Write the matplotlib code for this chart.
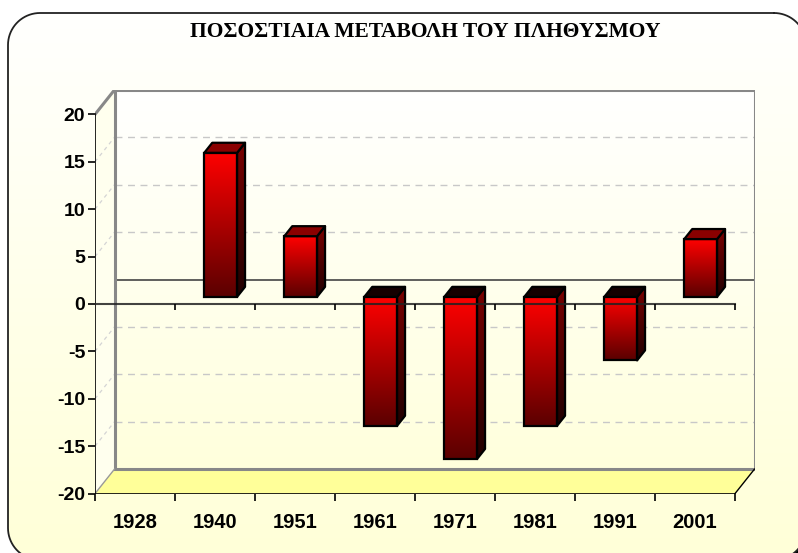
import numpy as np
import matplotlib
matplotlib.use("Agg")
import matplotlib.pyplot as plt
from matplotlib.patches import Polygon, Rectangle
from matplotlib.colors import LinearSegmentedColormap

# data
years = ['1928', '1940', '1951', '1961', '1971', '1981', '1991', '2001']
pct = [np.nan, 15.2, 6.4, -13.6, -17.1, -13.6, -6.7, 6.1]
y_ticks = [-20, -15, -10, -5, 0, 5, 10, 15, 20]
title = 'ΠΟΣΟΣΤΙΑΙΑ ΜΕΤΑΒΟΛΗ ΤΟΥ ΠΛΗΘΥΣΜΟΥ'

plt.rcParams['font.family'] = ['Liberation Sans', 'DejaVu Sans']

W, H = 798, 553
# pixel geometry of the pseudo-3d box
X0, PXC = 95, 80.0          # front left edge, px per category
Y0, PXV = 304, 9.48         # front zero line, px per unit
DXPX, DYPX = 19.5, 24.5     # depth offset in px
N = len(years)
DX = DXPX / PXC
DY = DYPX / PXV
VMIN, VMAX = -20, 20

fig = plt.figure(figsize=(W / 100, H / 100), dpi=100)
fig.patch.set_facecolor('white')


def gradient(ax, patch, extent, c_top, c_bot, zorder):
    cmap = LinearSegmentedColormap.from_list('g', [c_bot, c_top])
    grad = np.linspace(0, 1, 256).reshape(-1, 1)
    im = ax.imshow(grad, cmap=cmap, extent=extent, origin='lower',
                   aspect='auto', zorder=zorder, interpolation='bilinear')
    im.set_clip_path(patch)
    return im


def rounded_outline(x0, y0, x1, y1, r):
    # y grows downwards here
    pts = []
    for cxr, cyr, a0 in [(x1 - r, y0 + r, -90), (x1 - r, y1 - r, 0),
                         (x0 + r, y1 - r, 90), (x0 + r, y0 + r, 180)]:
        t = np.radians(np.linspace(a0, a0 + 90, 20))
        pts += list(zip(cxr + r * np.cos(t), cyr + r * np.sin(t)))
    pts.append(pts[0])
    return np.array(pts)


# background with rounded border (runs off the right and bottom edges)
bg = fig.add_axes([0, 0, 1, 1])
bg.axis('off')
bg.add_patch(Rectangle((778, 533), 40, 40, facecolor='black', edgecolor='none', zorder=1))
outline = rounded_outline(8, 13, 806, 560, 32)
frame = Polygon(outline, closed=True, facecolor='none', edgecolor='none', zorder=2)
bg.add_patch(frame)
gradient(bg, frame, [0, W, H, 0], '#FFFFFF', '#FFFFD8', 2)
bg.plot(outline[:, 0], outline[:, 1], color='#222222', lw=1.3, zorder=3)
bg.set_xlim(0, W)
bg.set_ylim(H, 0)

fig.text(425 / W, 1 - 32 / H, title, ha='center', va='center',
         family=['Liberation Serif', 'DejaVu Serif'], fontweight='bold', fontsize=15.5)

# plot axes placed so that data coords map onto the pixel geometry
left = X0
right = X0 + PXC * (N + DX)
bottom = Y0 - VMIN * PXV
top = Y0 - (VMAX + DY) * PXV
ax = fig.add_axes([left / W, 1 - bottom / H, (right - left) / W, (bottom - top) / H])
ax.patch.set_alpha(0)
for s in ax.spines.values():
    s.set_visible(False)

# back wall
back = Rectangle((DX, VMIN + DY), N, VMAX - VMIN, facecolor='none',
                 edgecolor='#888888', lw=2.2, zorder=3)
ax.add_patch(back)
gradient(ax, back, [DX, N + DX, VMIN + DY, VMAX + DY], '#FFFFFF', '#FFFFDC', 1)

# left side wall
side = Polygon([(0, VMIN), (DX, VMIN + DY), (DX, VMAX + DY), (0, VMAX)],
               facecolor='#FFFFEE', edgecolor='none', zorder=1)
ax.add_patch(side)
ax.plot([0, DX], [VMAX, VMAX + DY], color='#888888', lw=2.2, zorder=3,
        solid_capstyle='round')

# floor
floor = Polygon([(0, VMIN), (N, VMIN), (N + DX, VMIN + DY), (DX, VMIN + DY)],
                facecolor='#FFFF99', edgecolor='none', zorder=2)
ax.add_patch(floor)
ax.plot([N, N + DX], [VMIN, VMIN + DY], color='black', lw=1, zorder=4)
ax.plot([0, DX], [VMIN, VMIN + DY], color='#999999', lw=1, zorder=4)

# gridlines on back wall and side wall
for v in y_ticks[1:-1]:
    if v == 0:
        ax.plot([DX, N + DX], [DY, DY], color='#444444', lw=1.2, zorder=2)
        continue
    ax.plot([DX, N + DX], [v + DY, v + DY], color='#C8C8C8', lw=1,
            dashes=(5, 4), zorder=2)
    ax.plot([0, DX], [v, v + DY], color='#D4D4D4', lw=0.9, dashes=(3, 3), zorder=2)

# bars
f0, f1 = 0.29, 0.70
w = 0.41
cx = np.arange(N) + 0.5 + f0 * DX
b0 = f0 * DY
ddx, ddy = (f1 - f0) * DX, (f1 - f0) * DY
bars = ax.bar(cx, pct, width=w, bottom=b0, facecolor='none', edgecolor='black',
              lw=1.6, zorder=6)
for x, v, rect in zip(cx, pct, bars):
    if np.isnan(v):
        continue
    lo, hi = min(b0, b0 + v), max(b0, b0 + v)
    xl, xr = x - w / 2, x + w / 2
    gradient(ax, rect, [xl, xr, lo, hi], '#FF0000', '#5A0000', 5)
    sp = Polygon([(xr, lo), (xr, hi), (xr + ddx, hi + ddy), (xr + ddx, lo + ddy)],
                 facecolor='none', edgecolor='black', lw=1.6, joinstyle='round', zorder=6)
    ax.add_patch(sp)
    gradient(ax, sp, [xr, xr + ddx, lo, hi + ddy], '#7A0000', '#200000', 5)
    tp = Polygon([(xl, hi), (xr, hi), (xr + ddx, hi + ddy), (xl + ddx, hi + ddy)],
                 facecolor='#8A0000' if v > 0 else '#150000', edgecolor='black',
                 lw=1.6, joinstyle='round', zorder=6)
    ax.add_patch(tp)

# front axis lines
ax.plot([0, 0], [VMIN, VMAX], color='black', lw=1.2, zorder=7)
ax.plot([0, N], [VMIN, VMIN], color='black', lw=1.2, zorder=7)
ax.plot([0, N], [0, 0], color='#222222', lw=1.5, alpha=0.85, zorder=7)
ax.vlines(np.arange(1, N + 1), -6 / PXV, 0, color='black', lw=1.2, zorder=7)

ax.set_xlim(0, N + DX)
ax.set_ylim(VMIN, VMAX + DY)

ax.set_yticks(y_ticks)
ax.set_yticklabels([str(v) for v in y_ticks], fontweight='bold', fontsize=14)
ax.tick_params(axis='y', direction='out', length=5, width=1.2, pad=2, color='black')
ax.set_xticks(np.arange(N) + 0.5)
ax.set_xticklabels(years, fontweight='bold', fontsize=14.5)
ax.set_xticks(np.arange(N + 1), minor=True)
ax.tick_params(axis='x', which='major', length=0, pad=14)
ax.tick_params(axis='x', which='minor', direction='out', length=5, width=1.2, color='black')

fig.savefig('out.png', dpi=100)
